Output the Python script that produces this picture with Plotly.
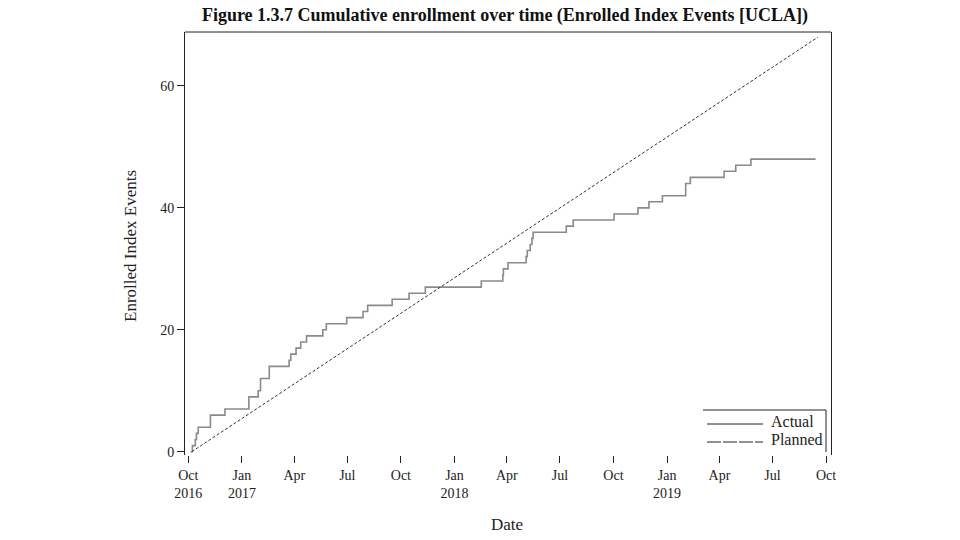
import plotly.graph_objects as go

# ---- data ----
actual_dates = ["2016-10-05", "2016-10-08", "2016-10-13", "2016-10-15", "2016-10-18",
                "2016-11-08", "2016-12-03", "2017-01-13", "2017-01-29", "2017-02-02",
                "2017-02-17", "2017-03-23", "2017-03-26", "2017-04-04", "2017-04-12",
                "2017-04-22", "2017-05-20", "2017-05-26", "2017-06-30", "2017-07-28",
                "2017-08-05", "2017-09-16", "2017-10-15", "2017-11-12", "2018-02-16",
                "2018-03-25", "2018-03-26", "2018-04-03", "2018-05-04", "2018-05-06",
                "2018-05-11", "2018-05-14", "2018-05-16", "2018-07-12", "2018-07-24",
                "2018-10-02", "2018-11-12", "2018-12-01", "2018-12-24", "2019-02-02",
                "2019-02-10", "2019-04-09", "2019-04-29", "2019-05-25", "2019-09-13"]
actual_values = [0, 1, 2, 3, 4, 6, 7, 9, 10, 12,
                 14, 15, 16, 17, 18, 19, 20, 21, 22, 23,
                 24, 25, 26, 27, 28, 29, 30, 31, 32, 33,
                 34, 35, 36, 37, 38, 39, 40, 41, 42, 44,
                 45, 46, 47, 48, 48]

planned_dates = ["2016-10-07", "2019-09-17"]
planned_values = [0, 68]

x_tick_vals = ["2016-10-01", "2017-01-01", "2017-04-01", "2017-07-01", "2017-10-01",
               "2018-01-01", "2018-04-01", "2018-07-01", "2018-10-01", "2019-01-01",
               "2019-04-01", "2019-07-01", "2019-10-01"]
x_tick_text = ["Oct<br>2016", "Jan<br>2017", "Apr", "Jul", "Oct", "Jan<br>2018", "Apr",
               "Jul", "Oct", "Jan<br>2019", "Apr", "Jul", "Oct"]
y_tick_vals = [0, 20, 40, 60]

title_text = "Figure 1.3.7 Cumulative enrollment over time (Enrolled Index Events [UCLA])"
legend_labels = ["Actual", "Planned"]

FONT = "Liberation Serif, Times New Roman, serif"
INK = "#222222"

fig = go.Figure()
fig.add_trace(go.Scatter(x=actual_dates, y=actual_values, mode="lines",
                         line=dict(color="#8a8a8a", width=1.6, shape="hv"),
                         name=legend_labels[0], showlegend=False))
fig.add_trace(go.Scatter(x=planned_dates, y=planned_values, mode="lines",
                         line=dict(color="#333333", width=1, dash="3px,2px"),
                         name=legend_labels[1], showlegend=False))

W, H = 960, 540
L, R, T, B = 185, 831, 32, 455
pw, ph = R - L, B - T


def px(xp):
    return (xp - L) / pw


def py(yp):
    return (B - yp) / ph


shapes = [
    dict(type="line", xref="paper", yref="paper", x0=0, x1=1, y0=1, y1=1,
         line=dict(color=INK, width=1)),
    # legend box (top and right edges)
    dict(type="line", xref="paper", yref="paper", x0=px(703), x1=px(826), y0=py(410), y1=py(410),
         line=dict(color=INK, width=1)),
    dict(type="line", xref="paper", yref="paper", x0=px(826), x1=px(826), y0=py(410), y1=py(452),
         line=dict(color=INK, width=1)),
    dict(type="line", xref="paper", yref="paper", x0=px(707), x1=px(763), y0=py(424), y1=py(424),
         line=dict(color=INK, width=1)),
    dict(type="line", xref="paper", yref="paper", x0=px(707), x1=px(763), y0=py(442), y1=py(442),
         line=dict(color=INK, width=1, dash="14px,2px")),
]

annotations = [
    dict(text=legend_labels[0], xref="paper", yref="paper", x=px(769), y=py(421),
         xanchor="left", yanchor="middle", showarrow=False, font=dict(family=FONT, size=16, color=INK)),
    dict(text=legend_labels[1], xref="paper", yref="paper", x=px(769), y=py(439),
         xanchor="left", yanchor="middle", showarrow=False, font=dict(family=FONT, size=16, color=INK)),
    dict(text="Enrolled Index Events", xref="paper", yref="paper", x=px(130), y=py(246),
         xanchor="center", yanchor="middle", textangle=-90, showarrow=False,
         font=dict(family=FONT, size=17, color=INK)),
    dict(text="Date", xref="paper", yref="paper", x=px(507), y=py(524),
         xanchor="center", yanchor="middle", showarrow=False,
         font=dict(family=FONT, size=17, color=INK)),
]

fig.update_layout(
    width=W, height=H,
    margin=dict(l=L, r=W - R, t=T, b=H - B, pad=0),
    paper_bgcolor="white", plot_bgcolor="white",
    title=dict(text="<b>" + title_text + "</b>", x=505 / W, xanchor="center",
               y=1 - 15 / H, yanchor="middle",
               font=dict(family=FONT, size=18, color="#111111")),
    font=dict(family=FONT, size=14, color=INK),
    xaxis=dict(range=["2016-09-25 08:00", "2019-10-09 12:00"], type="date",
               tickvals=x_tick_vals, ticktext=x_tick_text,
               ticks="outside", ticklen=7, tickcolor=INK, tickwidth=1,
               showgrid=False, zeroline=False, showline=False,
               tickfont=dict(family=FONT, size=14, color=INK)),
    yaxis=dict(range=[-0.54, 68.85], tickvals=y_tick_vals,
               ticks="outside", ticklen=7, tickcolor=INK, tickwidth=1,
               showgrid=False, zeroline=False, showline=True, linecolor=INK, linewidth=1,
               mirror=True, tickfont=dict(family=FONT, size=14, color=INK)),
    shapes=shapes,
    annotations=annotations,
    showlegend=False,
)

fig.write_html("out.html", config={"displayModeBar": False},
               post_script="document.body.style.margin='0';document.body.style.overflow='hidden';")
